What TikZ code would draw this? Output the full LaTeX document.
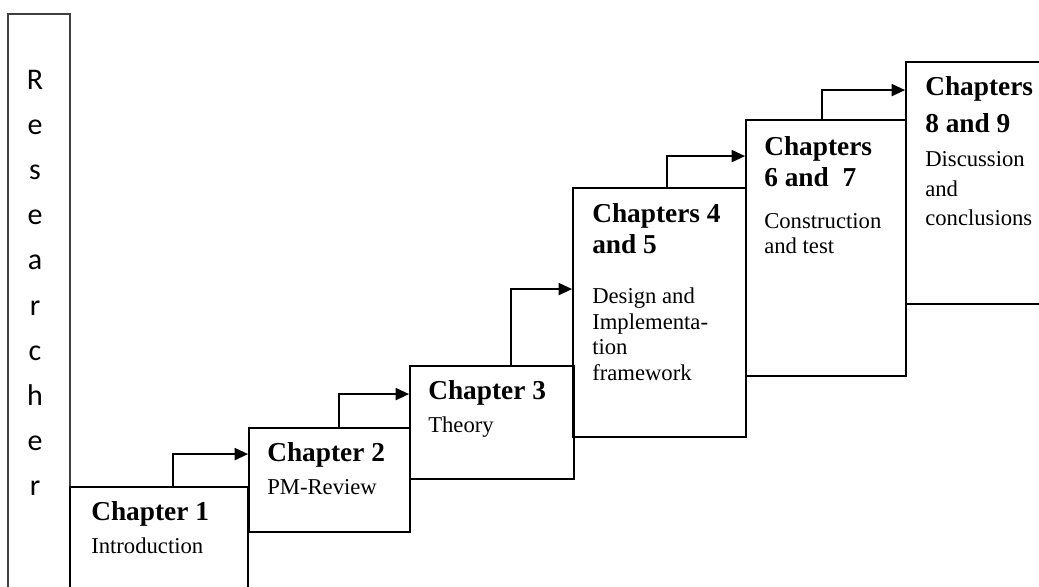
\documentclass[tikz,border=0pt]{standalone}
\usepackage{fontspec}
\setmainfont{Liberation Serif}
\newfontfamily\sidefont{Carlito}
\usetikzlibrary{arrows.meta,fit,calc}

\begin{document}
\begin{tikzpicture}[x=0.75pt,y=-0.75pt,
  stage/.style={draw,line width=1.4pt,inner sep=0pt},
  side/.style={draw=black!75,line width=0.9pt,inner sep=0pt},
  arr/.style={line width=1.4pt,-{Triangle[length=10pt,width=9pt]}},
  head/.style={inner sep=0pt,anchor=base west,font=\fontsize{20.5}{24}\selectfont\bfseries},
  body/.style={inner sep=0pt,anchor=base west,font=\fontsize{17}{20}\selectfont},
  letter/.style={inner sep=0pt,anchor=base,font=\sidefont\fontsize{22.5}{26}\selectfont}]
\useasboundingbox (0,0) rectangle (1039,586);
\clip (0,0) rectangle (1039,586);

% side column with the vertical word
\node[side,fit={(8,14) (70,600)}] (res) {};
\foreach \ch [count=\i from 0] in {R,e,s,e,a,r,c,h,e,r}
  \node[letter] (l\i) at (35,{89+45.2*\i}) {\ch};

% the chapter boxes, rising step by step
\node[stage,fit={(70,487) (248,600)}] (c1) {};
\node[stage,fit={(249,428) (410,532)}] (c2) {};
\node[stage,fit={(410,366) (574,479)}] (c3) {};
\node[stage,fit={(573,188) (746,437)}] (c4) {};
\node[stage,fit={(746,120) (906,376)}] (c6) {};
\node[stage,fit={(906,62) (1045,304)}] (c8) {};

% step arrows from one box to the next
\draw[arr] ($(c1.north west)+(104,0)$) |- ($(c2.north west)+(0,27)$);
\draw[arr] ($(c2.north west)+(91,0)$) |- ($(c3.north west)+(0,29)$);
\draw[arr] ($(c3.north west)+(102,0)$) |- ($(c4.north west)+(0,102)$);
\draw[arr] ($(c4.north west)+(95,0)$) |- ($(c6.north west)+(0,37)$);
\draw[arr] ($(c6.north west)+(77,0)$) |- ($(c8.north west)+(0,29)$);

% box texts
\node[head] (t1a) at (91,520) {Chapter 1};
\node[body] (t1b) at (91,553) {Introduction};

\node[head] (t2a) at (267,461) {Chapter 2};
\node[body] (t2b) at (267,494) {PM-Review};

\node[head] (t3a) at (428,399) {Chapter 3};
\node[body] (t3b) at (428,432) {Theory};

\node[head] (t4a) at (592,222) {Chapters 4};
\node[head] (t4b) at (592,253) {and 5};
\node[body] (t4c) at (592,303) {Design and};
\node[body] (t4d) at (592,329) {Implementa-};
\node[body] (t4e) at (592,354) {tion};
\node[body] (t4f) at (592,380) {framework};

\node[head] (t6a) at (764,155) {Chapters};
\node[head] (t6b) at (764,186) {6 and\ \ 7};
\node[body] (t6c) at (764,228) {Construction};
\node[body] (t6d) at (764,253) {and test};

\node[head] (t8a) at (925,95) {Chapters};
\node[head] (t8b) at (925,132) {8 and 9};
\node[body] (t8c) at (925,166) {Discussion};
\node[body] (t8d) at (925,196) {and};
\node[body] (t8e) at (925,225) {conclusions};
\end{tikzpicture}
\end{document}
